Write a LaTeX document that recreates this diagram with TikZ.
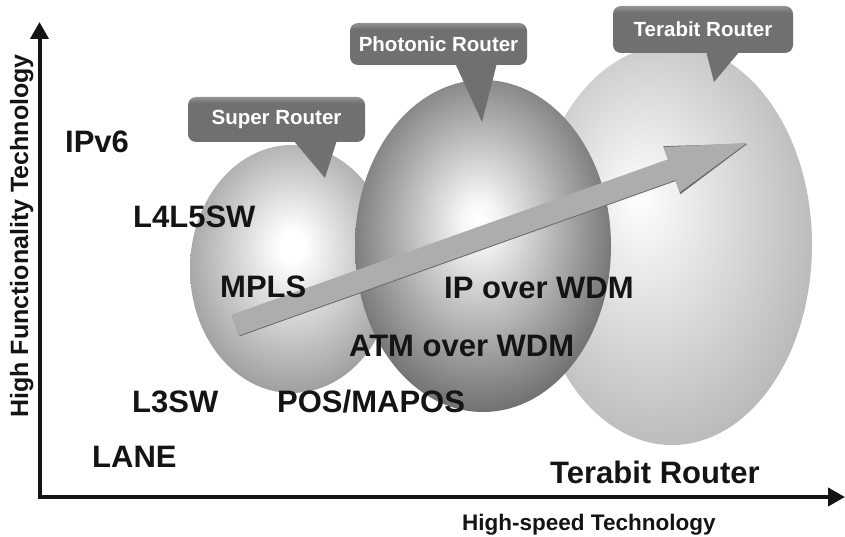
\documentclass[tikz,border=0pt]{standalone}
\usepackage{fontspec}
\setmainfont{Liberation Sans}
\usetikzlibrary{arrows.meta}

% grey tones
\definecolor{calloutgray}{gray}{0.44}
\definecolor{calloutlight}{gray}{0.58}
\definecolor{arrowgray}{gray}{0.68}
\definecolor{arrowedge}{gray}{0.42}
\definecolor{superedge}{gray}{0.60}
\definecolor{photonedge}{gray}{0.40}
\definecolor{terabitedge}{gray}{0.71}
\definecolor{photonmid}{gray}{0.97}
\definecolor{terabitmid}{gray}{0.95}

% radial shadings for the three bubbles (highlight slightly up and left)
\pgfdeclareradialshading{superball}{\pgfpoint{0bp}{5bp}}{%
  color(0bp)=(white); color(3bp)=(white); color(29bp)=(superedge); color(55bp)=(superedge)}
\pgfdeclareradialshading{photonball}{\pgfpoint{-1bp}{4bp}}{%
  color(0bp)=(white); color(3bp)=(photonmid); color(29bp)=(photonedge); color(55bp)=(photonedge)}
\pgfdeclareradialshading{terabitball}{\pgfpoint{-6bp}{6bp}}{%
  color(0bp)=(white); color(5bp)=(terabitmid); color(31bp)=(terabitedge); color(55bp)=(terabitedge)}
% callout boxes: flat grey with a lighter top rim
\pgfdeclareverticalshading{calloutfill}{100bp}{%
  color(0bp)=(calloutgray); color(68bp)=(calloutgray); color(75bp)=(calloutlight); color(100bp)=(calloutlight)}

\tikzset{
  axisline/.style={line width=4pt, line join=miter, draw=black!92,
    {Triangle[length=17pt,width=18pt]}-{Triangle[length=17pt,width=18pt]}},
  techlabel/.style={font=\fontsize{31}{31}\bfseries\selectfont, text=black!92,
    inner sep=0pt, anchor=base west},
  axislabel/.style={font=\fontsize{22.5}{22.5}\bfseries\selectfont, text=black!92,
    inner sep=0pt, anchor=base west},
  calloutbox/.style={shading=calloutfill, rounded corners=8pt, inner sep=0pt,
    text=white, font=\fontsize{20.5}{20.5}\bfseries\selectfont},
  pointer/.style={fill=calloutgray},
}

\begin{document}
\begin{tikzpicture}[x=1pt, y=-1pt]
\useasboundingbox (0,0) rectangle (845,537);

% bubbles
\shade[shading=terabitball] (672,245) ellipse [x radius=140, y radius=200];
\shade[shading=superball] (292,269) ellipse [x radius=102, y radius=124];
\shade[shading=photonball] (483,246) ellipse [x radius=128, y radius=166];

% callouts
\node[calloutbox, minimum width=177pt, minimum height=45pt] (superbox) at (276.5,119.5) {Super Router};
\coordinate (supertip) at (325,178);
\fill[pointer] (293,140) -- (supertip) -- (337,140) -- cycle;

\node[calloutbox, minimum width=177pt, minimum height=42pt] (photonbox) at (438.5,44) {Photonic Router};
\coordinate (photontip) at (482,122);
\fill[pointer] (455,63) -- (photontip) -- (497,63) -- cycle;

\node[calloutbox, minimum width=180pt, minimum height=47pt] (terabitbox) at (703,29.5) {Terabit Router};
\coordinate (terabittip) at (714,82);
\fill[pointer] (706,51) -- (terabittip) -- (740,51) -- cycle;

% growth arrow across the bubbles
\coordinate (growtail) at (235.5,325);
\begin{scope}[shift={(growtail)}, rotate=19.6]
  \fill[arrowedge] (0,-10) -- (463,-10) -- (463,-25) -- (543,1) -- (463,26) -- (463,12) -- (0,12) -- cycle;
  \fill[arrowgray] (0,-11) -- (463,-11) -- (463,-24) -- (543,0) -- (463,24) -- (463,11) -- (0,11) -- cycle;
\end{scope}

% axes
\coordinate (origin) at (39.5,497);
\coordinate (ytip) at (39.5,22);
\coordinate (xtip) at (845,497);
\draw[axisline] (ytip) -- (origin) -- (xtip);

% technology labels
\node[techlabel] (ipv6) at (65,153) {IPv6};
\node[techlabel] (l4l5) at (133,228) {L4L5SW};
\node[techlabel] (mpls) at (220,297) {MPLS};
\node[techlabel] (ipwdm) at (444,298) {IP over WDM};
\node[techlabel] (atmwdm) at (349,356) {ATM over WDM};
\node[techlabel] (l3sw) at (132,412) {L3SW};
\node[techlabel] (pos) at (277,412) {POS/MAPOS};
\node[techlabel] (lane) at (92,467) {LANE};
\node[techlabel] (terabit) at (550,483) {Terabit Router};

% axis titles
\node[axislabel] (xtitle) at (462,530) {High-speed Technology};
\node[axislabel, font=\fontsize{25}{25}\bfseries\selectfont, rotate=90, anchor=base] (ytitle) at (28,236) {High Functionality Technology};
\end{tikzpicture}
\end{document}
